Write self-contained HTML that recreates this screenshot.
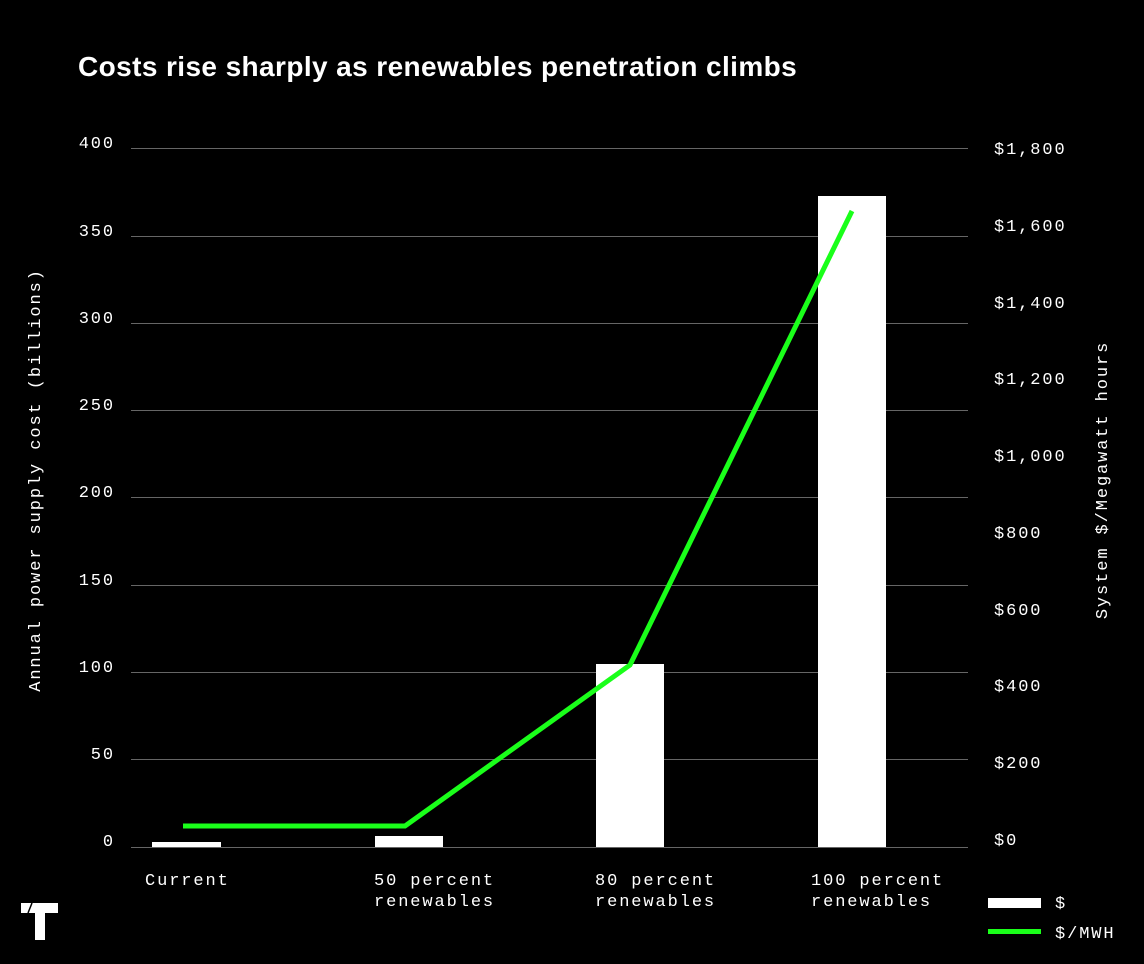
<!DOCTYPE html>
<html><head><style>
body{margin:0;background:#000;width:1144px;height:959px;overflow:hidden}
svg text{font-family:"Liberation Mono",monospace;fill:#fff;font-size:17px;letter-spacing:1.9px}
</style></head><body>
<svg width="1144" height="959" xmlns="http://www.w3.org/2000/svg">
<text x="78" y="76" style="font-family:'Liberation Sans',sans-serif;font-weight:bold;font-size:28px;letter-spacing:0.4px">Costs rise sharply as renewables penetration climbs</text>
<g stroke="#666" stroke-width="1">
<line x1="131" x2="968" y1="148.5" y2="148.5"/><line x1="131" x2="968" y1="236.5" y2="236.5"/>
<line x1="131" x2="968" y1="323.5" y2="323.5"/><line x1="131" x2="968" y1="410.5" y2="410.5"/>
<line x1="131" x2="968" y1="497.5" y2="497.5"/><line x1="131" x2="968" y1="585.5" y2="585.5"/>
<line x1="131" x2="968" y1="672.5" y2="672.5"/><line x1="131" x2="968" y1="759.5" y2="759.5"/>
<line x1="131" x2="968" y1="847.5" y2="847.5"/>
</g>
<g text-anchor="end">
<text x="115" y="148">400</text><text x="115" y="236">350</text><text x="115" y="323">300</text>
<text x="115" y="410">250</text><text x="115" y="497">200</text><text x="115" y="585">150</text>
<text x="115" y="672">100</text><text x="115" y="759">50</text><text x="115" y="846">0</text>
</g>
<g>
<text x="994" y="154">$1,800</text><text x="994" y="231">$1,600</text><text x="994" y="308">$1,400</text>
<text x="994" y="384">$1,200</text><text x="994" y="461">$1,000</text><text x="994" y="538">$800</text>
<text x="994" y="615">$600</text><text x="994" y="691">$400</text><text x="994" y="768">$200</text>
<text x="994" y="845">$0</text>
</g>
<text transform="translate(40,480) rotate(-90)" text-anchor="middle">Annual power supply cost (billions)</text>
<text transform="translate(1107,480) rotate(-90)" text-anchor="middle">System $/Megawatt hours</text>
<rect x="152" y="842" width="69" height="5" fill="#fff"/>
<rect x="375" y="836" width="68" height="11" fill="#fff"/>
<rect x="596" y="664" width="68" height="183" fill="#fff"/>
<rect x="818" y="196" width="68" height="651" fill="#fff"/>
<polyline points="183,826 405,826 630,665 852,211" fill="none" stroke="#1aff1a" stroke-width="5"/>
<text x="145" y="885">Current</text>
<text x="374" y="885">50 percent</text><text x="374" y="906">renewables</text>
<text x="595" y="885">80 percent</text><text x="595" y="906">renewables</text>
<text x="811" y="885">100 percent</text><text x="811" y="906">renewables</text>
<rect x="988" y="898" width="53" height="10" fill="#fff"/>
<rect x="988" y="929" width="53" height="5" fill="#1aff1a"/>
<text x="1055" y="908">$</text><text x="1055" y="938">$/MWH</text>
<rect x="21" y="903" width="37" height="10" fill="#fff"/>
<rect x="35" y="903" width="10" height="37" fill="#fff"/>
<line x1="32" y1="903" x2="28" y2="913" stroke="#000" stroke-width="1.5"/>
</svg>
</body></html>
